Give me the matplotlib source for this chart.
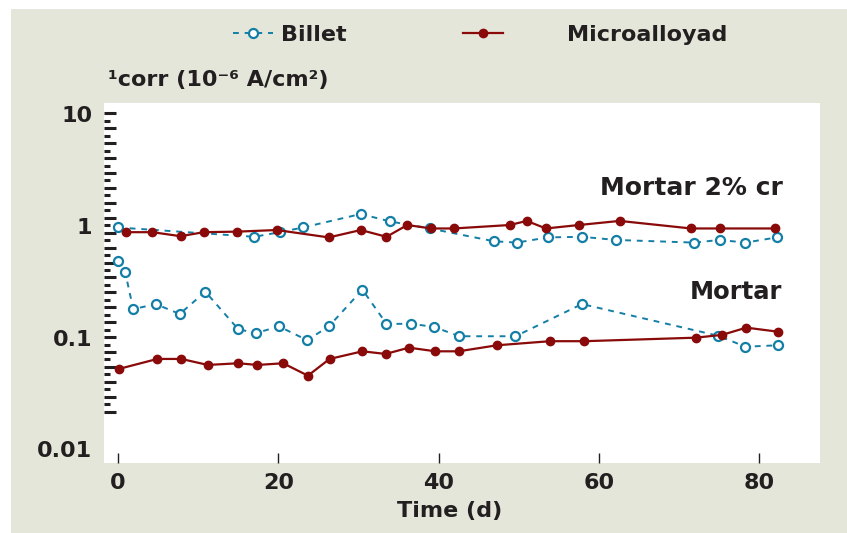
import numpy as np
import matplotlib.pyplot as plt
from matplotlib.lines import Line2D
from matplotlib.patches import Rectangle

# --- data ---
# Mortar 2% cr (upper group)
billet_cr_t = [0, 17, 20.2, 23.1, 30.3, 33.9, 38.9, 46.9, 49.8, 53.6, 57.9,
               62.1, 71.9, 75.1, 78.3, 82.2]
billet_cr_i = [0.97, 0.80, 0.88, 0.97, 1.28, 1.10, 0.95, 0.73, 0.71, 0.79, 0.80,
               0.75, 0.71, 0.75, 0.71, 0.79]
micro_cr_t = [1.0, 4.3, 7.8, 10.7, 14.9, 19.8, 26.3, 30.3, 33.5, 36.1, 39.1,
              41.9, 48.9, 51.0, 53.4, 57.5, 62.6, 71.5, 75.1, 82.0]
micro_cr_i = [0.88, 0.88, 0.81, 0.88, 0.89, 0.92, 0.79, 0.92, 0.80, 1.02, 0.95,
              0.95, 1.02, 1.11, 0.95, 1.02, 1.11, 0.95, 0.95, 0.95]

# Mortar (lower group)
billet_m_t = [0, 0.9, 1.9, 4.7, 7.7, 10.9, 15.0, 17.2, 20.1, 23.6, 26.3, 30.5,
              33.5, 36.6, 39.4, 42.6, 49.6, 57.9, 74.9, 78.3, 82.4]
billet_m_i = [0.49, 0.385, 0.18, 0.20, 0.163, 0.258, 0.119, 0.110, 0.126, 0.095,
              0.126, 0.269, 0.133, 0.133, 0.125, 0.103, 0.103, 0.20, 0.104,
              0.083, 0.0855]
micro_m_t = [0.1, 4.9, 7.9, 11.2, 15.0, 17.4, 20.6, 23.7, 26.4, 30.5, 33.4,
             36.3, 39.6, 42.5, 47.3, 53.9, 58.2, 72.1, 75.4, 78.4, 82.4]
micro_m_i = [0.0525, 0.0645, 0.0645, 0.057, 0.059, 0.057, 0.059, 0.0457, 0.0645,
             0.0755, 0.0715, 0.0814, 0.0755, 0.0755, 0.0855, 0.093, 0.093,
             0.100, 0.106, 0.123, 0.113]

xticks = [0, 20, 40, 60, 80]
yticks = [0.01, 0.1, 1, 10]
ytick_labels = ['0.01', '0.1', '1', '10']

BLUE = '#137fa6'
RED = '#8a0a0a'
INK = '#231f20'
BEIGE = '#e5e6da'

plt.rcParams['font.family'] = ['DejaVu Sans']
plt.rcParams['font.weight'] = 'bold'

fig = plt.figure(figsize=(8.47, 5.33), dpi=100)
fig.patch.set_facecolor('white')
fig.patches.append(Rectangle((11 / 847, 0), 1, 1 - 9 / 533, transform=fig.transFigure,
                             facecolor=BEIGE, edgecolor='none', zorder=-10))

ax = fig.add_axes([104 / 847, 1 - 463 / 533, 716 / 847, 360 / 533])
ax2 = ax.twinx()
ax.set_zorder(ax2.get_zorder() + 1)
ax.patch.set_visible(False)
ax2.patch.set_visible(True)
ax2.patch.set_facecolor('white')

billet_style = dict(color=BLUE, linestyle=(0, (3, 3)), linewidth=1.4, marker='o',
                    markersize=6.5, markerfacecolor='white', markeredgecolor=BLUE,
                    markeredgewidth=1.6)
micro_style = dict(color=RED, linestyle='-', linewidth=1.6, marker='o',
                   markersize=6, markerfacecolor=RED, markeredgecolor=RED)

ax.plot(billet_cr_t, billet_cr_i, **billet_style)
ax.plot(micro_cr_t, micro_cr_i, **micro_style)
ax.plot(billet_m_t, billet_m_i, **billet_style)
ax.plot(micro_m_t, micro_m_i, **micro_style)

ax.set_yscale('log')
ax.set_ylim(10 ** -2.122, 10 ** 1.101)
ax.set_xlim(-1.75, 87.6)

ax.set_yticks(yticks)
ax.set_yticklabels(ytick_labels)
ax.yaxis.set_minor_locator(plt.NullLocator())
ax.set_xticks(xticks)
ax.tick_params(axis='y', length=0, pad=8.5, labelsize=16, labelcolor=INK)
ax.tick_params(axis='x', direction='in', length=7, width=1, color=INK, pad=7,
               labelsize=16, labelcolor=INK)
for lab in ax.get_xticklabels() + ax.get_yticklabels():
    lab.set_fontweight('bold')

# decorative dash ruler on the left edge (pixel units from the bottom)
ax2.set_ylim(0, 360)
ax2.yaxis.set_ticks_position('left')
ax2.set_yticks(np.arange(51.3, 352, 14.92))
ax2.set_yticks(np.arange(51.3 + 7.46, 345, 14.92), minor=True)
ax2.tick_params(axis='y', which='major', direction='in', length=8.6, width=2.2,
                color=INK, labelleft=False, labelright=False)
ax2.tick_params(axis='y', which='minor', direction='in', length=4.3, width=2.2,
                color=INK, labelleft=False, labelright=False)

for a in (ax, ax2):
    for s in a.spines.values():
        s.set_visible(False)

ax.set_xlabel('Time (d)', fontsize=16, fontweight='bold', color=INK)
ax.xaxis.set_label_coords((450 - 104) / 716, -(501 - 463) / 360)

ax.text(783 / 847, 1 - 188 / 533, 'Mortar 2% cr', transform=fig.transFigure,
        ha='right', va='center', fontsize=18, fontweight='bold', color=INK)
ax.text(782 / 847, 1 - 292 / 533, 'Mortar', transform=fig.transFigure,
        ha='right', va='center', fontsize=17.5, fontweight='bold', color=INK)

fig.text(108 / 847, 1 - 80 / 533, '¹corr (10⁻⁶ A/cm²)', ha='left', va='center',
         fontsize=16, fontweight='bold', color=INK)

# legend
h_billet = Line2D([], [], **billet_style)
h_micro = Line2D([], [], **micro_style)
fig.legend([h_billet], ['Billet'], loc='center left',
           bbox_to_anchor=(233 / 847, 1 - 35 / 533), frameon=False,
           borderpad=0, borderaxespad=0, handlelength=1.8, handletextpad=0.36,
           prop=dict(weight='bold', size=16), labelcolor=INK)
fig.legend([h_micro], ['Microalloyad'], loc='center left',
           bbox_to_anchor=(463 / 847, 1 - 35 / 533), frameon=False,
           borderpad=0, borderaxespad=0, handlelength=1.8, handletextpad=2.9,
           prop=dict(weight='bold', size=16), labelcolor=INK)

fig.savefig('out.png', dpi=100, facecolor=fig.get_facecolor())
